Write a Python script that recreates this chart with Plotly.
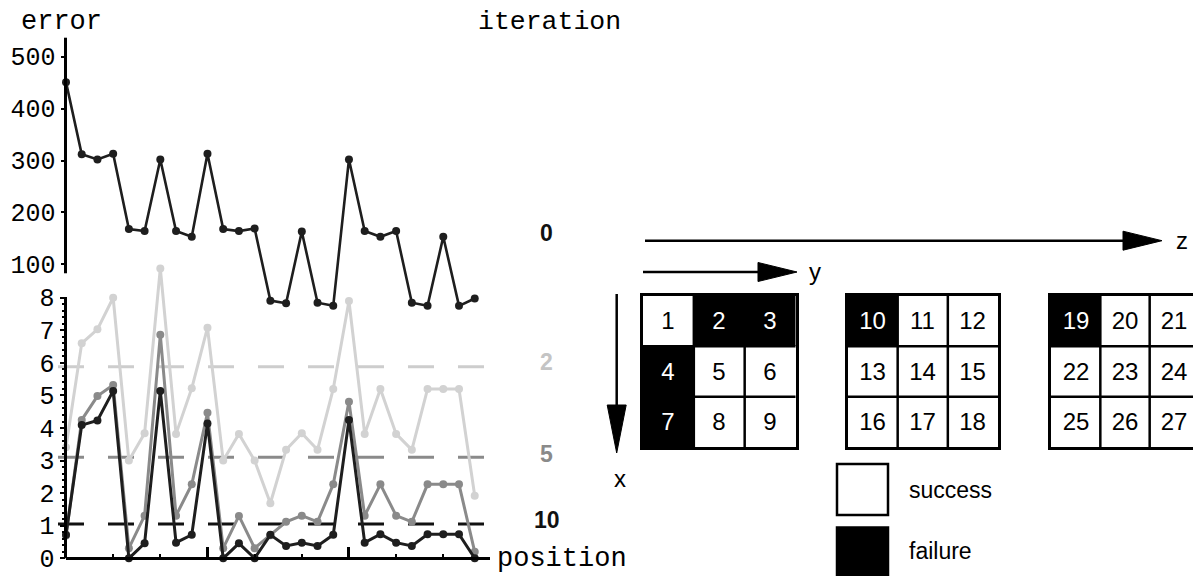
import plotly.graph_objects as go

# The page has an 8px body margin, so the figure is laid out in the
# reference's pixel coordinates shifted by OFF.
OFF = 8
W, H = 1201 - OFF, 576 - OFF

# ---------------- data ----------------
positions = list(range(1, 28))
error_iter0 = [451, 312, 302, 313, 168, 164, 302, 164, 153, 313, 168, 164, 169, 30,
               25, 163, 26, 20, 302, 164, 153, 164, 26, 20, 153, 20, 34]
error_iter2 = [3.41, 6.60, 7.03, 8.00, 3.00, 3.84, 8.90, 3.82, 5.22, 7.08, 3.00, 3.82,
               3.00, 1.69, 3.33, 3.84, 3.33, 5.20, 7.90, 3.82, 5.20, 3.82, 3.33, 5.20,
               5.20, 5.20, 1.92]
error_iter5 = [0.70, 4.25, 4.98, 5.32, 0.31, 1.31, 6.86, 1.31, 2.27, 4.47, 0.31, 1.30,
               0.31, 0.71, 1.12, 1.31, 1.12, 2.27, 4.81, 1.31, 2.27, 1.31, 1.12, 2.27,
               2.27, 2.27, 0.20]
error_iter10 = [0.72, 4.09, 4.23, 5.14, 0.00, 0.46, 5.14, 0.48, 0.72, 4.14, 0.00, 0.46,
                0.00, 0.72, 0.38, 0.48, 0.38, 0.72, 4.25, 0.48, 0.74, 0.48, 0.38, 0.74,
                0.74, 0.74, 0.00]
iteration_labels = ["0", "2", "5", "10"]
thresholds = [5.88, 3.10, 1.05]          # dashed levels for iterations 2, 5, 10
top_ticks = [100, 200, 300, 400, 500]
bottom_ticks = [0, 1, 2, 3, 4, 5, 6, 7, 8]
row_ticks = [4, 7, 13, 16, 22, 25]
layer_ticks = [10, 19]

grid_numbers = [
    [[1, 2, 3], [4, 5, 6], [7, 8, 9]],
    [[10, 11, 12], [13, 14, 15], [16, 17, 18]],
    [[19, 20, 21], [22, 23, 24], [25, 26, 27]],
]
grid_failure = [
    [[0, 1, 1], [1, 0, 0], [1, 0, 0]],
    [[1, 0, 0], [0, 0, 0], [0, 0, 0]],
    [[1, 0, 0], [0, 0, 0], [0, 0, 0]],
]

# ---------------- styling ----------------
MONO = "Liberation Mono"
SANS = "Liberation Sans"
C_TOP = "#1e1e1e"
C_IT2 = "#d2d2d2"
C_IT5 = "#8a8a8a"
C_IT10 = "#1e1e1e"
label_colors = ["#111111", "#c4c4c4", "#8a8a8a", "#111111"]
dash_colors = ["#cdcdcd", "#8a8a8a", "#111111"]


def PX(p):
    return (p - OFF) / W


def PY(p):
    return 1 - (p - OFF) / H


STEP = 15.72            # px per position
X0, X1 = 65.5, 490.0    # reference px extent of left chart
x_range = [1 - (66 - X0) / STEP, 1 + (X1 - 66) / STEP]
# lower axis: value 0 at ref 558.3 px, 32.57 px per unit
Y0_LO = 558.3 - OFF
y_lo_range = [(Y0_LO - H) / 32.57, Y0_LO / 32.57]
# upper axis: value 100 at ref 264.3 px, 0.519 px per unit
Y100_HI = 264.3 - OFF
y_hi_range = [100 - (H - Y100_HI) / 0.519, 100 + Y100_HI / 0.519]

fig = go.Figure()

series = [(error_iter2, C_IT2), (error_iter5, C_IT5), (error_iter10, C_IT10)]
fig.add_trace(go.Scatter(x=positions, y=error_iter0, yaxis="y2", mode="lines+markers",
                         line=dict(color=C_TOP, width=2.6),
                         marker=dict(size=8, color=C_TOP), cliponaxis=False,
                         showlegend=False))
for vals, col in series:
    fig.add_trace(go.Scatter(x=positions, y=vals, mode="lines+markers",
                             line=dict(color=col, width=3),
                             marker=dict(size=8, color=col), cliponaxis=False,
                             showlegend=False))

# grids as heatmaps
grid_x = [(643.0, 795.5), (847.5, 998.0), (1051.0, 1199.0)]
grid_y = (296.0, 447.0)
for g in range(3):
    txt = [['<span style="color:%s">%d</span>' % ("white" if f else "black", n)
            for n, f in zip(nr, fr)]
           for nr, fr in zip(grid_numbers[g], grid_failure[g])]
    fig.add_trace(go.Heatmap(
        z=grid_failure[g], text=txt, texttemplate="%{text}",
        textfont=dict(family=SANS, size=24, color="black"),
        colorscale=[[0, "white"], [1, "black"]], zmin=0, zmax=1,
        showscale=False, hoverinfo="skip",
        xaxis="x%d" % (g + 3), yaxis="y%d" % (g + 3)))

shapes = []
# dashed levels (start a little left of the axis, as in the reference)
for thr, col in zip(thresholds, dash_colors):
    shapes.append(dict(type="line", xref="paper", yref="y", x0=PX(58), x1=PX(485),
                       y0=thr, y1=thr, layer="below",
                       line=dict(color=col, width=3, dash="26px,24px")))
# axis lines of the left chart
shapes.append(dict(type="line", xref="x domain", yref="y", x0=0, x1=0, y0=0, y1=8.02,
                   line=dict(color="black", width=3)))
shapes.append(dict(type="line", xref="x domain", yref="y2", x0=0, x1=0,
                   y0=82.7, y1=536.6, line=dict(color="black", width=3)))
# grid inner lines
for g in range(3):
    xr, yr = "x%d" % (g + 3), "y%d" % (g + 3)
    for v in (0.5, 1.5):
        shapes.append(dict(type="line", xref=xr, yref=yr + " domain", x0=v, x1=v,
                           y0=0, y1=1, line=dict(color="black", width=2.5)))
        shapes.append(dict(type="line", xref=xr + " domain", yref=yr, x0=0, x1=1,
                           y0=v, y1=v, line=dict(color="black", width=2.5)))


def arrow_h(x0, x1, xh, y, half):
    shapes.append(dict(type="line", xref="paper", yref="paper", x0=PX(x0), x1=PX(xh),
                       y0=PY(y), y1=PY(y), line=dict(color="black", width=2.5)))
    shapes.append(dict(type="path", xref="paper", yref="paper",
                       path="M %f %f L %f %f L %f %f Z" % (
                           PX(xh), PY(y - half), PX(x1), PY(y), PX(xh), PY(y + half)),
                       fillcolor="black", line=dict(color="black", width=1)))


def arrow_v(x, y0, y1, yh, half):
    shapes.append(dict(type="line", xref="paper", yref="paper", x0=PX(x), x1=PX(x),
                       y0=PY(y0), y1=PY(yh), line=dict(color="black", width=2.5)))
    shapes.append(dict(type="path", xref="paper", yref="paper",
                       path="M %f %f L %f %f L %f %f Z" % (
                           PX(x - half), PY(yh), PX(x), PY(y1), PX(x + half), PY(yh)),
                       fillcolor="black", line=dict(color="black", width=1)))


arrow_h(645, 1162, 1123, 240.7, 9.5)   # z
arrow_h(643, 797, 758, 272.0, 9.5)     # y
arrow_v(616.7, 294, 453, 405, 9.5)     # x

# legend boxes
shapes.append(dict(type="rect", xref="paper", yref="paper", x0=PX(837), x1=PX(888),
                   y0=PY(515), y1=PY(464), line=dict(color="black", width=2.5),
                   fillcolor="white"))
shapes.append(dict(type="rect", xref="paper", yref="paper", x0=PX(837), x1=PX(888),
                   y0=PY(580), y1=PY(527.5), line=dict(color="black", width=2.5),
                   fillcolor="black"))

annotations = []


def note(text, x, y, size, family, color="black", xanchor="center", bold=False):
    annotations.append(dict(text=("<b>%s</b>" % text) if bold else text,
                            xref="paper", yref="paper", x=PX(x), y=PY(y),
                            xanchor=xanchor, yanchor="middle", showarrow=False,
                            font=dict(family=family, size=size, color=color)))


note("error", 61.5, 22, 27, MONO)
note("iteration", 549, 22, 26.5, MONO)
note("position", 561.5, 559, 27, MONO)
label_y = [233, 362, 453.5, 519.5]
for lab, ly, col in zip(iteration_labels, label_y, label_colors):
    note(lab, 546.7, ly, 23, SANS, col, bold=True)
note("x", 620, 478, 24, SANS)
note("y", 815, 271, 24, SANS)
note("z", 1182, 241, 24, SANS)
note("success", 907, 490, 23, SANS, xanchor="left")
note("failure", 907, 551, 23, SANS, xanchor="left")

axis_font = dict(family=MONO, size=25, color="black")
layout = dict(
    width=W, height=H, margin=dict(l=0, r=0, t=0, b=0),
    paper_bgcolor="white", plot_bgcolor="white", showlegend=False,
    shapes=shapes, annotations=annotations,
    xaxis=dict(domain=[PX(X0), PX(X1)], range=x_range, anchor="free",
               position=PY(558.3), showline=True, linecolor="black", linewidth=2.5,
               tickmode="array", tickvals=layer_ticks, ticks="inside", ticklen=11,
               tickwidth=2.5, tickcolor="black", showticklabels=False,
               showgrid=False, zeroline=False,
               minor=dict(tickmode="array", tickvals=row_ticks, ticks="inside",
                          ticklen=4, tickwidth=2, tickcolor="black")),
    xaxis2=dict(domain=[PX(X0), PX(X1)], range=x_range, anchor="free",
                position=PY(558.3), overlaying="x", showline=False,
                tickmode="array", tickvals=layer_ticks, ticks="outside", ticklen=8,
                tickwidth=2.5, tickcolor="black", showticklabels=False,
                showgrid=False, zeroline=False),
    yaxis=dict(domain=[0, 1], range=y_lo_range, anchor="x", showline=False,
               tickmode="array", tickvals=bottom_ticks, ticks="outside", ticklen=5,
               tickwidth=2, tickcolor="black", tickfont=axis_font,
               showgrid=False, zeroline=False,
               minor=dict(tickmode="array", tickvals=[i * 0.2 for i in range(41)],
                          ticks="outside", ticklen=3, tickwidth=1.5,
                          tickcolor="black")),
    yaxis2=dict(domain=[0, 1], range=y_hi_range, anchor="x", overlaying="y",
                side="left", showline=False, tickmode="array", tickvals=top_ticks,
                ticks="outside", ticklen=4, tickwidth=2, tickcolor="black",
                tickfont=axis_font, showgrid=False, zeroline=False),
)
for g in range(3):
    xa, ya = "xaxis%d" % (g + 3), "yaxis%d" % (g + 3)
    layout[xa] = dict(domain=[PX(grid_x[g][0]), PX(grid_x[g][1])], range=[-0.5, 2.5],
                      anchor="y%d" % (g + 3), showline=True, mirror=True,
                      linecolor="black", linewidth=2.5, showticklabels=False,
                      ticks="", showgrid=False, zeroline=False)
    layout[ya] = dict(domain=[PY(grid_y[1]), PY(grid_y[0])], range=[2.5, -0.5],
                      anchor="x%d" % (g + 3), showline=True, mirror=True,
                      linecolor="black", linewidth=2.5, showticklabels=False,
                      ticks="", showgrid=False, zeroline=False)
fig.update_layout(**layout)
fig.write_html("out.html")
